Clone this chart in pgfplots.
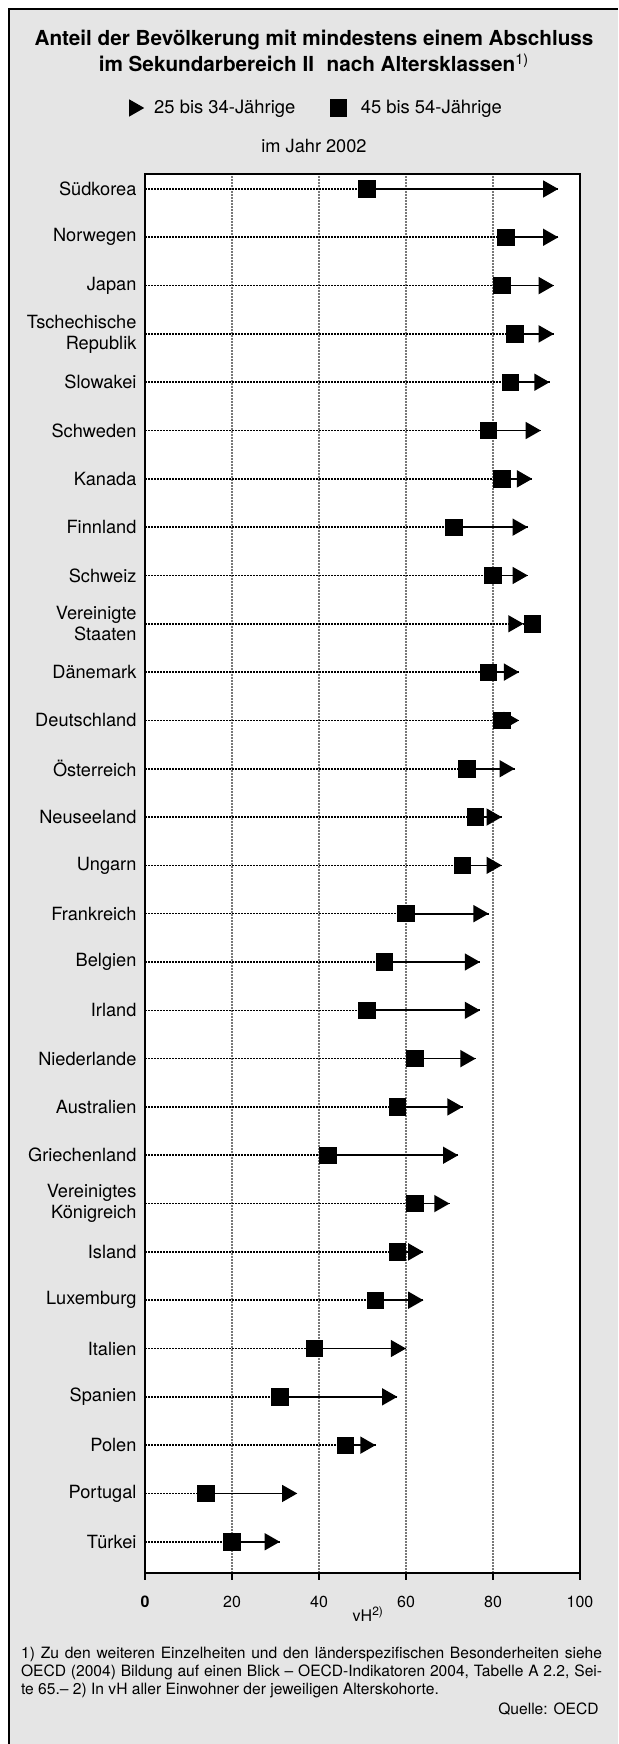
\documentclass[border=0pt]{standalone}
\usepackage{fontspec}
\setmainfont{TeX Gyre Heros}
\usepackage{pgfplots}
\usepackage{pgfplotstable}
\pgfplotsset{compat=1.18}

\definecolor{panel}{RGB}{229,229,229}
\definecolor{gridgray}{RGB}{120,120,120}

% triangle pointing right, its tip on the data point
\pgfdeclareplotmark{tipright}{%
  \pgfpathmoveto{\pgfqpoint{0pt}{0pt}}%
  \pgfpathlineto{\pgfqpoint{-7.6pt}{4.35pt}}%
  \pgfpathlineto{\pgfqpoint{-7.6pt}{-4.35pt}}%
  \pgfpathclose
  \pgfusepathqfill}

\pgfplotsset{
  tri legend/.style={legend image code/.code={%
    \path[draw=none, fill=none] (0.45cm-7.6pt,0pt) (0.45cm+3pt,0pt);
    \draw[##1] plot coordinates {(0.45cm,0cm)};}},
  sq legend/.style={legend image code/.code={%
    \path[draw=none, fill=none] (0.3cm-4.1pt,0pt) (0.3cm+9.1pt,0pt);
    \draw[##1] plot coordinates {(0.3cm,0cm)};}},
}

% pos: 0 = Tuerkei (bottom) ... 28 = Suedkorea (top)
% old = 45 bis 54-Jaehrige, young = 25 bis 34-Jaehrige (vH)
\pgfplotstableread{
pos land                     old young
28  Südkorea                 51  95
27  Norwegen                 83  95
26  Japan                    82  94
25  {Tschechische Republik}  85  94
24  Slowakei                 84  93
23  Schweden                 79  91
22  Kanada                   82  89
21  Finnland                 71  88
20  Schweiz                  80  88
19  {Vereinigte Staaten}     89  87
18  Dänemark                 79  86
17  Deutschland              82  86
16  Österreich               74  85
15  Neuseeland               76  82
14  Ungarn                   73  82
13  Frankreich               60  79
12  Belgien                  55  77
11  Irland                   51  77
10  Niederlande              62  76
9   Australien               58  73
8   Griechenland             42  72
7   {Vereinigtes Königreich} 62  70
6   Island                   58  64
5   Luxemburg                53  64
4   Italien                  39  60
3   Spanien                  31  58
2   Polen                    46  53
1   Portugal                 14  35
0   Türkei                   20  31
}\data

\begin{document}
\begin{tikzpicture}
% page and panel
\path[use as bounding box] (0pt,0pt) rectangle (309pt,872pt);
\fill[panel] (4.5pt,0pt) rectangle (309pt,867.5pt);
\draw[black, line width=1.35pt] (4.5pt,0pt) -- (4.5pt,867.5pt) -- (309pt,867.5pt);

% title
\node[anchor=base, font=\fontsize{10.35}{13}\selectfont\bfseries] at (157pt,849pt)
  {Anteil der Bevölkerung mit mindestens einem Abschluss};
\node[anchor=base, font=\fontsize{10.35}{13}\selectfont\bfseries] at (157pt,836pt)
  {im Sekundarbereich II\,\, nach Altersklassen\textsuperscript{\normalfont 1)}};
\node[anchor=base, font=\fontsize{9.1}{11}\selectfont] at (157pt,795.5pt) {im Jahr 2002};

\begin{axis}[
  at={(72.5pt,85.65pt)}, anchor=south west,
  scale only axis,
  width=217.5pt, height=699.35pt,
  xmin=0, xmax=100,
  ymin=-0.64, ymax=28.31,
  axis background/.style={fill=white},
  axis line style={black, line width=1.1pt},
  xtick={0,20,40,60,80,100},
  xticklabels={\textbf{0},20,40,60,80,100},
  xtick pos=bottom, xtick align=outside,
  major tick length=3.6pt,
  xtick style={black, line width=0.9pt},
  xticklabel style={font=\fontsize{8}{9.6}\selectfont, yshift=-4.7pt},
  /pgf/number format/assume math mode=true,
  xmajorgrids,
  grid style={gridgray, line width=0.6pt, dash pattern=on 0.6pt off 0.9pt},
  ytick={0,...,28},
  ytick style={draw=none},
  yticklabels={Türkei, Portugal, Polen, Spanien, Italien, Luxemburg, Island,
    {Vereinigtes\\Königreich}, Griechenland, Australien, Niederlande, Irland,
    Belgien, Frankreich, Ungarn, Neuseeland, Österreich, Deutschland, Dänemark,
    {Vereinigte\\Staaten}, Schweiz, Finnland, Kanada, Schweden, Slowakei,
    {Tschechische\\Republik}, Japan, Norwegen, Südkorea},
  yticklabel style={font=\fontsize{9.1}{10.5}\selectfont, align=right, inner sep=0pt, xshift=-4.1pt},
  xlabel={vH\rlap{\textsuperscript{2)}}},
  xlabel style={font=\fontsize{8}{9.6}\selectfont, at={(axis description cs:0.5,0)}, anchor=base, yshift=-24.2pt},
  legend columns=2,
  legend style={at={(axis description cs:0.3965,1.0472)}, anchor=center,
    draw=none, fill=none, font=\fontsize{9.2}{11}\selectfont,
    /tikz/every even column/.append style={column sep=15.5pt}},
]
% dotted leaders from the axis to the first marker
\addplot[forget plot, black, line width=0.8pt, dash pattern=on 0.8pt off 0.7pt,
  quiver={u=\thisrow{old}, v=0}] table[x expr=0, y=pos] {\data};
% connecting line 45-54 -> 25-34
\addplot[forget plot, black, line width=0.85pt,
  quiver={u=\thisrow{young}-\thisrow{old}, v=0}] table[x=old, y=pos] {\data};
\addplot[only marks, mark=tipright, black, tri legend]
  table[x=young, y=pos] {\data};
\addlegendentry{25 bis 34-Jährige}
\addplot[only marks, mark=square*, mark size=4.1pt, mark options={fill=black, draw=none}, sq legend]
  table[x=old, y=pos] {\data};
\addlegendentry{45 bis 54-Jährige}
\end{axis}

% footnote and source
\node[anchor=base west, inner sep=0pt, font=\fontsize{7.8}{9}\selectfont] at (10.35pt,42.5pt)
  {\makebox[290.5pt][s]{1) Zu den weiteren Einzelheiten und den länderspezifischen Besonderheiten siehe}};
\node[anchor=base west, inner sep=0pt, font=\fontsize{7.8}{9}\selectfont] at (10.35pt,33.5pt)
  {\makebox[290.5pt][s]{OECD (2004) Bildung auf einen Blick – OECD-Indikatoren 2004, Tabelle A 2.2, Sei-}};
\node[anchor=base west, inner sep=0pt, font=\fontsize{7.8}{9}\selectfont] at (10.35pt,24.5pt)
  {te 65.– 2) In vH aller Einwohner der jeweiligen Alterskohorte.};
\node[anchor=base east, inner sep=0pt, font=\fontsize{7.8}{9}\selectfont] at (299.5pt,14.5pt)
  {Quelle: OECD};
\end{tikzpicture}
\end{document}
